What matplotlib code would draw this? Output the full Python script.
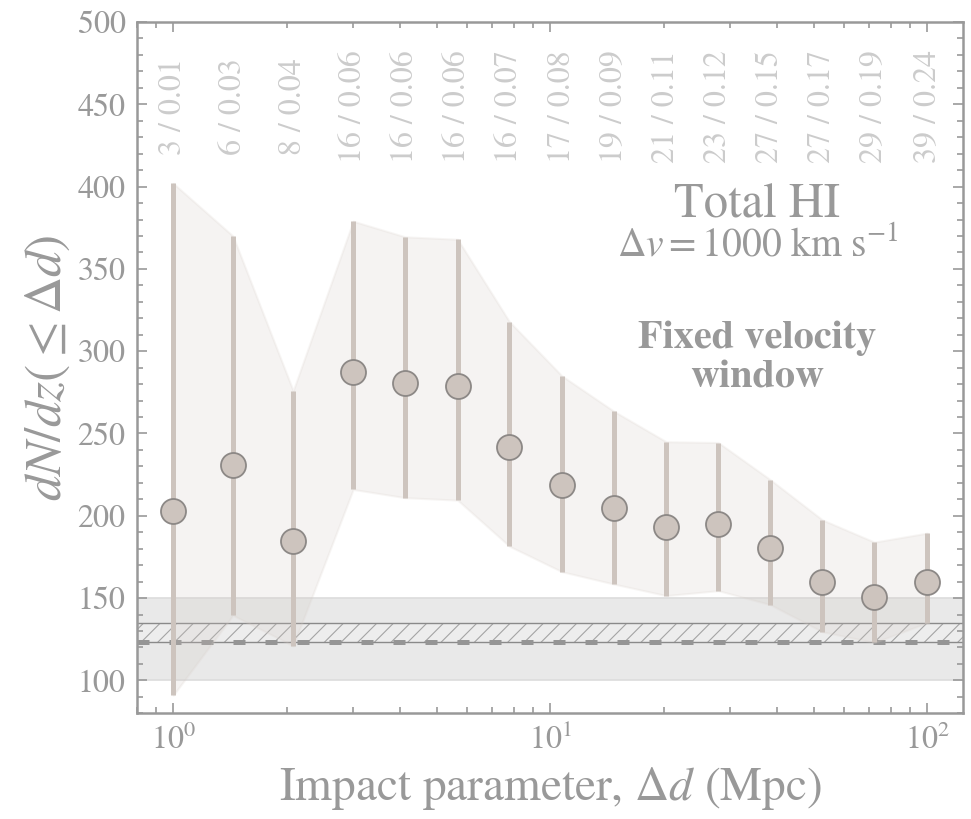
import numpy as np
import matplotlib
matplotlib.use("Agg")
import matplotlib.pyplot as plt

plt.rcParams['font.family'] = ['STIXGeneral', 'DejaVu Serif']
plt.rcParams['mathtext.fontset'] = 'stix'
plt.rcParams['hatch.linewidth'] = 0.8
plt.rcParams['xtick.labelsize'] = 23
plt.rcParams['ytick.labelsize'] = 23

# impact parameter bins (Mpc)
dist = [1.0, 1.44, 2.08, 3.0, 4.12, 5.68, 7.79, 10.74, 14.75, 20.3, 27.9, 38.3, 52.7, 72.4, 100.0]
# dN/dz and its 1-sigma range
dndz = [203, 231, 184.5, 287.5, 280.5, 279, 242, 218.5, 205, 193, 195, 180.5, 160, 150.5, 160]
dndz_hi = [402, 370, 276, 379, 369.5, 368, 318, 285, 263.5, 245, 244.5, 222, 197.5, 184, 189.5]
dndz_lo = [91, 139.5, 121, 216, 211, 209.5, 181.5, 166, 158.5, 151.5, 154.5, 146, 129.5, 123, 135]
# number of pairs / path length labels on top
top_labels = ['3 / 0.01', '6 / 0.03', '8 / 0.04', '16 / 0.06', '16 / 0.06', '16 / 0.06',
              '16 / 0.07', '17 / 0.08', '19 / 0.09', '21 / 0.11', '23 / 0.12', '27 / 0.15',
              '27 / 0.17', '29 / 0.19', '39 / 0.24']

# random-sky reference level and ranges
ref_level = 123
ref_hatch = (123, 135)
ref_band = (100, 150)

grey = '#999999'
bar_col = '#cdc4be'

fig = plt.figure(figsize=(9.71, 8.19), dpi=100)
ax = fig.add_axes([0.1408, 0.1291, 0.8513, 0.844])

# background band and hatched region
ax.axhspan(ref_band[0], ref_band[1], facecolor='#e9e9e9', edgecolor='#dcdcdc', lw=1.2, zorder=1)
ax.axhspan(ref_hatch[0], ref_hatch[1], facecolor='#ededed', edgecolor='#a4a4a4', lw=0,
           hatch='//', zorder=1.1)
ax.axhline(ref_hatch[1], color='#8a8a8a', lw=1.0, zorder=1.2)
ax.axhline(ref_hatch[0], color='#8a8a8a', lw=1.0, zorder=1.2)
ln = ax.axhline(ref_level, color='#959595', lw=3.6, zorder=1.3)
ln.set_dashes((2.4, 4.0))

# shaded range
ax.fill_between(dist, dndz_lo, dndz_hi, facecolor='#cfc6c0', alpha=0.2,
                edgecolor='#d9d0ca', lw=1.5, zorder=2)

# error bars and points
ax.errorbar(dist, dndz, yerr=[np.array(dndz) - np.array(dndz_lo), np.array(dndz_hi) - np.array(dndz)],
            fmt='o', ms=18, mfc=bar_col, mec='#8c8886', mew=1.3, ecolor=bar_col,
            elinewidth=3.6, capsize=0, zorder=3)

for xi, lab in zip(dist, top_labels):
    ax.text(xi, 448.5, lab, rotation=90, ha='center', va='center', fontsize=23, color='#cccccc')

ax.text(0.78, 0.749, 'Total HI', transform=fig.transFigure, ha='center', va='center',
        fontsize=35, color=grey)
ax.text(0.78, 0.700, r'$\Delta v = 1000\ \mathrm{km\ s^{-1}}$', transform=fig.transFigure,
        ha='center', va='center', fontsize=28.5, color=grey)
ax.text(0.78, 0.563, 'Fixed velocity\nwindow', transform=fig.transFigure, ha='center',
        va='center', fontsize=29, fontweight='bold', color=grey, linespacing=1.15)

ax.set_xscale('log')
ax.set_xlim(0.8, 124.6)
ax.set_ylim(80, 500)
ax.set_yticks(np.arange(100, 501, 50))
ax.set_yticks(np.arange(80, 501, 10), minor=True)

ax.set_xlabel(r'Impact parameter, $\Delta d$ (Mpc)', fontsize=34, color=grey, labelpad=6)
ax.set_ylabel(r'$dN/dz(\leq \Delta d)$', fontsize=37, color=grey, labelpad=4)

for s in ax.spines.values():
    s.set_color(grey)
    s.set_linewidth(1.8)
ax.tick_params(which='both', direction='in', top=True, right=True, colors=grey,
               labelsize=23, width=1.2)
ax.tick_params(which='major', length=7.5, pad=8, labelsize=23)
ax.tick_params(which='minor', length=4)

fig.savefig('out.png', dpi=100)
